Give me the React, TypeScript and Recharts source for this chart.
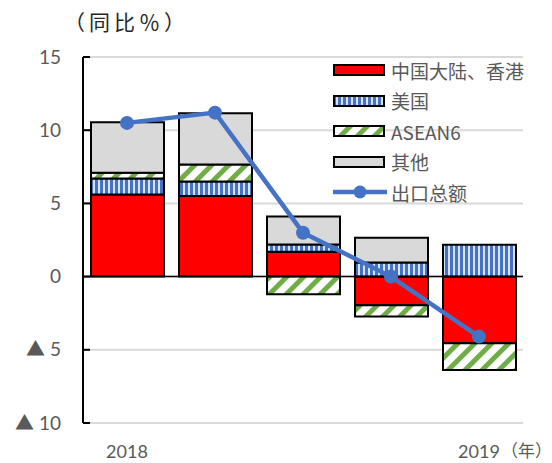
import { ComposedChart, Bar, Line, XAxis, YAxis, CartesianGrid, ReferenceLine } from 'recharts'

const periods = ['2018-1', '2018-2', '2019-1', '2019-2', '2019-3']
const periodLabels = ['2018', '', '', '', '2019']
const yearUnit = '（年）'

const mainland = [5.6, 5.5, 1.7, -1.95, -4.55]
const usa = [1.1, 1.0, 0.5, 0.96, 2.17]
const asean = [0.4, 1.15, -1.2, -0.78, -1.83]
const other = [3.45, 3.5, 1.9, 1.7, 0]
const total = [10.5, 11.2, 3.0, 0.0, -4.1]

const yTicks = [-10, -5, 0, 5, 10, 15]

const seriesNames = ['中国大陆、香港', '美国', 'ASEAN6', '其他', '出口总额']
const titleText = '（同比％）'

const RED = '#FF0000'
const BLUE = '#4472C4'
const GREEN = '#70AD47'
const GRAY = '#D9D9D9'
const TEXT = '#595959'
const FONT = "Lato, 'Noto Sans CJK SC', sans-serif"
const CJK = "'Noto Sans CJK SC', sans-serif"

const data = periods.map((p, i) => ({
  period: p,
  mainland: mainland[i],
  usa: usa[i],
  asean: asean[i],
  other: other[i],
  total: total[i],
}))

const fills = [RED, 'url(#blueStripe)', 'url(#greenStripe)', GRAY]

function Patterns() {
  return (
    <svg width={0} height={0} style={{ position: 'absolute' }}>
      <defs>
        <pattern id="blueStripe" patternUnits="userSpaceOnUse" width={5} height={10}>
          <rect width={5} height={10} fill={BLUE} />
          <rect x={3} width={2} height={10} fill="#DAE3F3" />
        </pattern>
        <pattern id="greenStripe" patternUnits="userSpaceOnUse" width={12} height={12} patternTransform="rotate(45)">
          <rect width={12} height={12} fill="#FFFFFF" />
          <rect width={5} height={12} fill={GREEN} />
        </pattern>
      </defs>
    </svg>
  )
}

const YTick = (props: any) => {
  const { x, y, payload } = props
  const v = payload.value
  const label = v < 0 ? `▲ ${-v}` : `${v}`
  return (
    <g>
      <line x1={x + 22} x2={x + 29} y1={y} y2={y} stroke="#000" strokeWidth={2} />
      <text x={x} y={y} dy="0.35em" textAnchor="end" fill={TEXT} fontSize={19} fontFamily={FONT}>
        {label}
      </text>
    </g>
  )
}

const XTick = (props: any) => {
  const { x, y, payload } = props
  const idx = periods.indexOf(payload.value)
  const label = periodLabels[idx]
  if (!label) return null
  const isLast = idx === periods.length - 1
  return (
    <g>
      <text x={x} y={y} dy="0.71em" textAnchor="middle" fill={TEXT} fontSize={18} fontFamily={FONT}>
        {label}
      </text>
      {isLast && (
        <text x={x + 22} y={y} dy="0.71em" textAnchor="start" fill={TEXT} fontSize={17} fontFamily={CJK}>
          {yearUnit}
        </text>
      )}
    </g>
  )
}

function LegendBox() {
  return (
    <div style={{ position: 'absolute', left: 333, top: 55, fontFamily: CJK, fontSize: 19, color: TEXT }}>
      {seriesNames.map((name, i) => (
        <div key={name} style={{ display: 'flex', alignItems: 'center', height: 30.5 }}>
          <svg width={56} height={16} style={{ marginRight: 2 }}>
            {i < 4 ? (
              <rect x={1} y={3} width={50} height={10} fill={fills[i]} stroke="#000" strokeWidth={2} />
            ) : (
              <g>
                <line x1={0} x2={54} y1={8} y2={8} stroke={BLUE} strokeWidth={4.5} />
                <circle cx={27} cy={8} r={6.5} fill={BLUE} />
              </g>
            )}
          </svg>
          <span style={{ lineHeight: 1 }}>{name}</span>
        </div>
      ))}
    </div>
  )
}

export default function App() {
  const keys = ['mainland', 'usa', 'asean', 'other']
  return (
    <div style={{ position: 'absolute', left: 0, top: 0, width: 552, height: 463, background: '#fff' }}>
      <Patterns />
      <div
        style={{
          position: 'absolute',
          left: 64,
          top: 6,
          fontFamily: CJK,
          fontSize: 21,
          letterSpacing: 4,
          color: '#262626',
          whiteSpace: 'nowrap',
        }}
      >
        {titleText}
      </div>
      <ComposedChart
        width={552}
        height={463}
        data={data}
        stackOffset="sign"
        barSize={73}
        margin={{ top: 57, right: 29, left: 0, bottom: 0 }}
      >
        <CartesianGrid horizontal vertical={false} stroke={GRAY} strokeWidth={2} />
        <XAxis
          dataKey="period"
          axisLine={false}
          tickLine={false}
          tickSize={0}
          tickMargin={22}
          height={40}
          tick={<XTick />}
          interval={0}
        />
        <YAxis
          domain={[-10, 15]}
          ticks={yTicks}
          width={83}
          tickLine={false}
          tickSize={0}
          tickMargin={22}
          axisLine={{ stroke: '#000', strokeWidth: 2 }}
          tick={<YTick />}
          interval={0}
        />
        {keys.map((k, i) => (
          <Bar
            key={k}
            dataKey={k}
            name={seriesNames[i]}
            stackId="a"
            fill={fills[i]}
            stroke="#000"
            strokeWidth={2}
            isAnimationActive={false}
          />
        ))}
        <ReferenceLine y={0} stroke="#000" strokeWidth={1.5} />
        <Line
          dataKey="total"
          name={seriesNames[4]}
          stroke={BLUE}
          strokeWidth={4.5}
          dot={{ r: 7, fill: BLUE, stroke: BLUE, strokeWidth: 0 }}
          isAnimationActive={false}
        />
      </ComposedChart>
      <LegendBox />
    </div>
  )
}
